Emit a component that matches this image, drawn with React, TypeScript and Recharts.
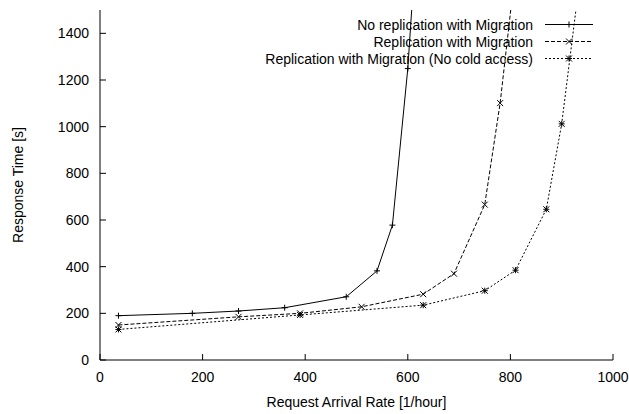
import { LineChart, Line, XAxis, YAxis, Legend } from "recharts"

const xTicks = [0, 200, 400, 600, 800, 1000]
const yTicks = [0, 200, 400, 600, 800, 1000, 1200, 1400]

// request arrival rate [1/hour] vs. response time [s]
const noReplication = [
  { rate: 36, time: 190 },
  { rate: 180, time: 200 },
  { rate: 270, time: 210 },
  { rate: 360, time: 224 },
  { rate: 480, time: 271 },
  { rate: 540, time: 382 },
  { rate: 570, time: 578 },
  { rate: 600, time: 1249 },
  { rate: 630, time: 2240 },
]

const replication = [
  { rate: 36, time: 150 },
  { rate: 270, time: 185 },
  { rate: 390, time: 200 },
  { rate: 510, time: 228 },
  { rate: 630, time: 282 },
  { rate: 690, time: 370 },
  { rate: 750, time: 666 },
  { rate: 780, time: 1101 },
  { rate: 810, time: 1680 },
]

const noColdAccess = [
  { rate: 36, time: 131 },
  { rate: 390, time: 193 },
  { rate: 630, time: 235 },
  { rate: 750, time: 297 },
  { rate: 810, time: 385 },
  { rate: 870, time: 646 },
  { rate: 900, time: 1012 },
  { rate: 930, time: 1540 },
]

type MarkerKind = "plus" | "cross" | "star"

const series = [
  { name: "No replication with Migration", data: noReplication, dash: undefined, marker: "plus" as MarkerKind },
  { name: "Replication with Migration", data: replication, dash: "4 2", marker: "cross" as MarkerKind },
  { name: "Replication with Migration (No cold access)", data: noColdAccess, dash: "2 2", marker: "star" as MarkerKind },
]

const font = "'Liberation Sans', Arial, Helvetica, sans-serif"
const TICK = 6

function Marker({ kind, cx, cy }: { kind: MarkerKind; cx: number; cy: number }) {
  const r = 3
  const plus = `M${cx - r},${cy}H${cx + r}M${cx},${cy - r}V${cy + r}`
  const cross = `M${cx - r},${cy - r}L${cx + r},${cy + r}M${cx - r},${cy + r}L${cx + r},${cy - r}`
  const d = kind === "plus" ? plus : kind === "cross" ? cross : plus + cross
  return <path d={d} stroke="#000" strokeWidth={1} fill="none" />
}

function LeftTick({ x, y, payload }: any) {
  return (
    <g>
      <line x1={x} x2={x + TICK} y1={y} y2={y} stroke="#000" />
      <text x={x - 11} y={y + 5} textAnchor="end" fontFamily={font} fontSize={14} fill="#000">
        {payload.value}
      </text>
    </g>
  )
}

function RightTick({ x, y }: any) {
  return <line x1={x - TICK} x2={x} y1={y} y2={y} stroke="#000" />
}

function BottomTick({ x, y, payload }: any) {
  return (
    <g>
      <line x1={x} x2={x} y1={y} y2={y - TICK} stroke="#000" />
      <text x={x} y={y + 22} textAnchor="middle" fontFamily={font} fontSize={14} fill="#000">
        {payload.value}
      </text>
    </g>
  )
}

function TopTick({ x, y }: any) {
  return <line x1={x} x2={x} y1={y} y2={y + TICK} stroke="#000" />
}

function XTitle({ viewBox }: any) {
  return (
    <text x={viewBox.x + viewBox.width / 2} y={viewBox.y + 47} textAnchor="middle" fontFamily={font} fontSize={14} fill="#000">
      Request Arrival Rate [1/hour]
    </text>
  )
}

function YTitle({ viewBox }: any) {
  const cx = viewBox.x + 18
  const cy = viewBox.y + viewBox.height / 2
  return (
    <text x={cx} y={cy} transform={`rotate(-90 ${cx} ${cy})`} textAnchor="middle" dominantBaseline="central" fontFamily={font} fontSize={14} fill="#000">
      Response Time [s]
    </text>
  )
}

// gnuplot-style key: right-aligned text followed by a line sample with its point
function Key({ payload }: any) {
  return (
    <svg width={629} height={414}>
      {(payload || []).map((entry: any, i: number) => {
        const s = series.find((item) => item.name === entry.value)
        if (!s) return null
        const cy = 24.5 + i * 17
        return (
          <g key={s.name}>
            <text x={533} y={cy + 5} textAnchor="end" fontFamily={font} fontSize={14} fill="#000">
              {s.name}
            </text>
            <line x1={545} x2={593} y1={cy} y2={cy} stroke="#000" strokeWidth={1} strokeDasharray={s.dash} />
            <Marker kind={s.marker} cx={569} cy={cy} />
          </g>
        )
      })}
    </svg>
  )
}

export default function App() {
  return (
    <div style={{ width: 629, height: 414, background: "#fff" }}>
      <style>{"body{margin:0}"}</style>
      <LineChart width={629} height={414} margin={{ top: 10, right: 16, bottom: 0, left: 0 }}>
        <XAxis
          xAxisId="bottom"
          dataKey="rate"
          type="number"
          domain={[0, 1000]}
          ticks={xTicks}
          allowDataOverflow
          height={54}
          tickSize={0}
          tickMargin={0}
          tickLine={false}
          tick={<BottomTick />}
          axisLine={{ stroke: "#000" }}
          label={<XTitle />}
        />
        <XAxis
          xAxisId="top"
          orientation="top"
          type="number"
          domain={[0, 1000]}
          ticks={xTicks}
          allowDataOverflow
          height={0}
          tickSize={0}
          tickMargin={0}
          tickLine={false}
          tick={<TopTick />}
          axisLine={{ stroke: "#000" }}
        />
        <YAxis
          yAxisId="left"
          type="number"
          domain={[0, 1500]}
          ticks={yTicks}
          allowDataOverflow
          width={100}
          tickSize={0}
          tickMargin={0}
          tickLine={false}
          tick={<LeftTick />}
          axisLine={{ stroke: "#000" }}
          label={<YTitle />}
        />
        <YAxis
          yAxisId="right"
          orientation="right"
          type="number"
          domain={[0, 1500]}
          ticks={yTicks}
          allowDataOverflow
          width={0}
          tickSize={0}
          tickMargin={0}
          tickLine={false}
          tick={<RightTick />}
          axisLine={{ stroke: "#000" }}
        />
        <Legend
          layout="horizontal"
          align="center"
          verticalAlign="middle"
          content={<Key />}
          wrapperStyle={{ position: "absolute", left: 0, top: 0, width: 629, height: 414, pointerEvents: "none" }}
        />
        {series.map((s) => (
          <Line
            key={s.name}
            name={s.name}
            data={s.data}
            dataKey="time"
            xAxisId="bottom"
            yAxisId="left"
            type="linear"
            stroke="#000"
            strokeWidth={1}
            strokeDasharray={s.dash}
            dot={(props: any) => <Marker key={props.index} kind={s.marker} cx={props.cx} cy={props.cy} />}
            activeDot={false}
            isAnimationActive={false}
          />
        ))}
      </LineChart>
    </div>
  )
}
